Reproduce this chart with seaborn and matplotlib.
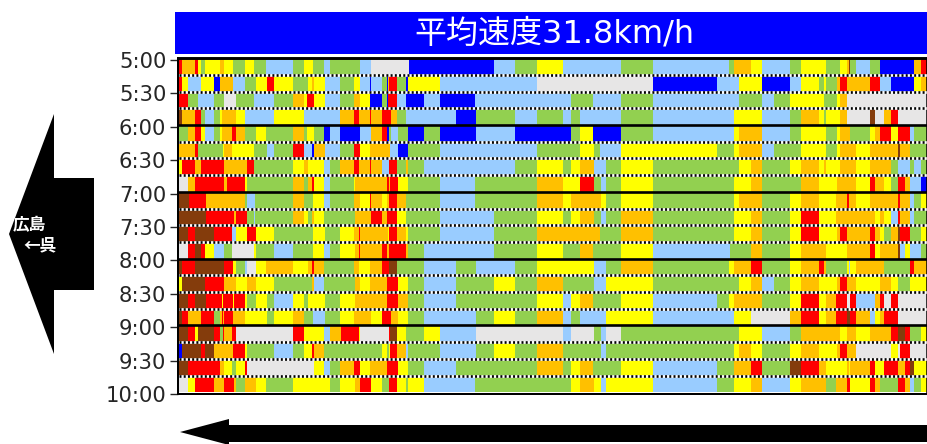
"""Commute-hour speed map along one road: time of day against road position."""

import numpy as np
import matplotlib
matplotlib.use("Agg")
import matplotlib.pyplot as plt
from matplotlib.colors import ListedColormap
from matplotlib.patches import Polygon, Rectangle
import seaborn as sns

TITLE = "平均速度31.8km/h"
TIME_LABELS = ["5:00", "5:30", "6:00", "6:30", "7:00", "7:30", "8:00", "8:30", "9:00", "9:30", "10:00"]

# speed classes, slowest to fastest, w = no data
CLASS_CODES = "mroyglbw"
CLASS_COLORS = ["#843C0C", "#FF0000", "#FFC000", "#FFFF00", "#92D050", "#99CCFF", "#0000FF", "#E7E6E6"]

# one string per 15 minutes: speed class + last road position of that run
ROW_0500 = "r3 o16 r19 y22 g26 y41 o45 y54 g66 y75 g87 l114 g125 y134 g145 l151 g181 l192 w230 b315 l336 g358 y384 l442 g474 l550 g555 o572 y583 l611 g622 y647 g661 y668 o670 m671 g677 l691 g701 b735 o742 r748"
ROW_0515 = "r3 y9 l22 y35 b41 o54 l66 g77 y88 r95 y114 g129 y133 o135 y146 l161 g175 y181 l191 b192 l203 g208 b209 o210 r218 g227 b229 y261 l358 w474 b538 l560 y583 b611 l622 y640 g645 y647 g658 o661 r668 o691 r701 l712 b735 y742 o748"
ROW_0530 = "r9 g19 l35 g45 w57 g75 l95 g114 o125 y128 r135 y146 l161 g175 o181 y191 b203 g208 b209 r218 l227 b245 l261 b296 l392 g414 l442 g474 l560 g583 l595 g611 y645 g658 y661 o668 w748"
ROW_0545 = "m3 o16 r22 g26 l35 g41 y43 o57 y66 l95 y125 l161 o175 r180 o191 r192 o203 r212 o218 g227 l277 b297 g336 l358 g384 l392 g401 l442 g474 l555 y583 l611 g622 o640 y645 g647 y661 o668 w691 m696 w705 o712 r719 w748"
ROW_0600 = "g9 o16 r22 y26 l35 g41 y43 o53 r57 o66 g77 y87 g114 o125 g128 y135 g145 b151 l161 b181 l192 o203 r208 b210 g212 l219 g229 b245 g261 b297 l336 b392 g401 y414 b442 g474 l555 y560 o583 l611 g622 y647 g658 y661 o671 g691 y696 o701 r712 y719 r731 l735 g748"
ROW_0615 = "o16 r19 g44 y45 o53 y75 g88 l95 g114 r125 l133 b135 o146 l161 g175 r181 y191 o211 l219 b229 g261 l358 g401 y415 g421 l442 y538 g555 y560 o583 l595 g622 y647 g658 y661 o677 y691 o719 m721 o731 g748"
ROW_0630 = "y3 r16 o22 r45 o68 r75 g114 y125 o129 y145 l151 g161 o175 r180 o191 r192 o203 l210 r218 g227 o229 g245 l336 g358 y384 g392 y401 o415 l427 g442 y474 g560 y572 o583 g611 y622 o640 y645 o647 y661 o677 y691 o712 g719 l731 g735 l742 g748"
ROW_0645 = "w9 o16 r45 o48 r66 y68 g114 o125 g129 o133 r135 y145 l151 g175 y176 o208 r210 o211 r219 y229 g261 l296 g358 o384 y401 r415 g422 l427 g442 y474 g555 y572 o583 g622 o640 y658 o677 y691 r696 o705 y712 g719 r726 o731 l742 b748"
ROW_0700 = "m10 r27 o66 g68 l76 g114 o125 g134 y145 l151 g175 o181 y191 r192 o203 y208 o210 r218 o227 g261 l296 g358 o384 y392 o422 y427 g442 y474 g555 y560 o583 g611 y622 o640 y657 o668 r670 o677 y691 o719 r721 o731 l735 g742 y748"
ROW_0715 = "m27 r55 o57 r68 g75 l76 g114 o125 y129 g133 o135 y145 g176 o192 r203 o208 r218 y227 g261 l315 g358 y384 g392 y401 o415 g422 l427 g442 o474 g555 y572 o583 g611 y622 r640 y657 o696 y701 o705 y712 l719 r721 o731 l735 g748"
ROW_0730 = "m9 r16 m35 r53 l57 y68 r77 y95 g134 y146 g161 y175 o180 r181 o209 y210 r218 o227 y229 g261 l315 g358 o421 g442 o474 g555 y572 o583 g611 y622 r640 y658 o661 r668 o691 r696 o701 y705 g712 o719 m721 r731 g742 y748"
ROW_0745 = "w9 r16 m22 r26 y35 l45 g53 w75 y77 g95 l114 g134 y145 l151 g161 y176 o180 r181 o203 r208 o210 r227 o229 g245 l315 g358 y384 g401 o414 g442 y474 l551 g572 o583 g611 y622 o647 y668 o691 r696 y701 o719 m721 l726 y731 l742 g748"
ROW_0800 = "m3 r16 m45 r54 y57 g66 l68 w77 y87 o114 y129 o133 r135 o145 g175 o180 y191 o203 r210 m218 g245 l277 g297 l336 g358 y415 l427 g442 o474 g550 y555 o572 r583 g611 y622 o640 r645 o647 g668 y670 l671 y677 o705 g731 r735 o748"
ROW_0815 = "y3 m26 r45 o57 y68 o77 y95 g133 o135 l145 g176 o181 y191 o208 r219 y229 g245 l277 g315 y336 g358 o384 g415 l427 y474 g560 y572 o583 l595 g611 y622 o640 y658 o661 r668 o677 y701 o712 y719 g731 y748"
ROW_0830 = "m9 r16 m27 r43 y44 r54 y55 r66 y68 g77 y88 g95 l114 y125 g129 y146 g161 y176 o208 r219 o229 g245 l277 g358 y384 l392 y401 o414 g442 y474 l538 g550 y555 o583 g611 y622 r640 y647 o657 r668 w671 r677 l696 o701 r705 w712 r719 w748"
ROW_0845 = "m3 r9 o22 r35 g41 o43 r44 o45 r54 o66 y88 g95 y114 o125 g134 l146 g161 y175 o192 y203 r212 o219 y229 g245 l297 g315 y336 g358 o384 l392 g401 l427 y474 l555 y572 w611 o622 r640 y647 o657 r668 m671 r677 o691 l696 y701 o705 r719 w748"
ROW_0900 = "m9 r16 y19 m35 r41 g44 r45 o53 r57 w114 r125 y145 l151 o162 r180 y181 w210 r211 m218 y227 g245 y261 l297 w384 l392 w415 g422 l427 w442 g560 y583 l611 g622 o661 y668 o677 y691 o712 r719 m726 r731 g742 y748"
ROW_0915 = "b3 m22 r26 m35 o54 r66 y68 g95 l114 g125 y133 r135 o145 g203 y208 g210 y211 r218 o227 l229 g261 l297 g315 y336 g358 o384 g422 l427 g555 y560 o572 y583 g611 y622 o640 y658 o661 r668 o677 w712 y719 w721 r731 w748"
ROW_0930 = "m9 r41 o45 y53 g57 y66 r68 w135 y145 l151 g161 o175 r181 y191 o208 r219 y229 g245 l277 g358 o384 g392 y401 o414 g442 y474 l538 g555 o572 r583 g611 m622 r640 o647 y668 o670 y671 o691 r696 y705 r719 o726 r731 m735 y748"
ROW_0945 = "w9 y16 r35 o45 r55 o57 g66 o77 y87 g114 y151 g161 y176 o181 r192 y203 g210 r218 y227 g229 y245 l296 g392 y401 o415 y422 l427 y474 l538 g555 y572 o583 l611 y622 o647 g657 o668 r671 y691 r696 o701 g719 r726 o731 l735 g742 y748"

ROWS = [ROW_0500, ROW_0515, ROW_0530, ROW_0545, ROW_0600, ROW_0615, ROW_0630, ROW_0645, ROW_0700, ROW_0715,
        ROW_0730, ROW_0745, ROW_0800, ROW_0815, ROW_0830, ROW_0845, ROW_0900, ROW_0915, ROW_0930, ROW_0945]

FIG_W, FIG_H = 928, 444


def expand_row(row):
    """Turn 'r3 o16 ...' into one class index per road position."""
    cells = np.zeros(748, dtype=int)
    start = 0
    for token in row.split():
        end = int(token[1:])
        cells[start:end] = CLASS_CODES.index(token[0])
        start = end
    return cells


speed_classes = np.array([expand_row(r) for r in ROWS])

plt.rcParams["font.family"] = ["DejaVu Sans", "Noto Sans CJK JP"]

fig = plt.figure(figsize=(FIG_W / 100, FIG_H / 100), dpi=100)
fig.patch.set_facecolor("white")

ax_top, ax_bottom = 58.3, 393.9
ax = fig.add_axes([179 / FIG_W, 1 - ax_bottom / FIG_H, 748 / FIG_W, (ax_bottom - ax_top) / FIG_H])
sns.heatmap(speed_classes, cmap=ListedColormap(CLASS_COLORS), vmin=-0.5, vmax=7.5, cbar=False, ax=ax,
            xticklabels=False, yticklabels=False)

# spines first: set_position resets the tick setup
for side in ["left", "top", "bottom", "right"]:
    ax.spines[side].set_visible(True)
    ax.spines[side].set_color("black")
ax.spines["left"].set_linewidth(1.44)
ax.spines["left"].set_position(("outward", 0.7))
ax.spines["top"].set_linewidth(2.1)
ax.spines["bottom"].set_linewidth(1.44)
ax.spines["right"].set_linewidth(1.1)

# the ticks sit just under the row boundaries
ax.set_yticks(np.arange(len(TIME_LABELS)) * 2 + 0.1)
ax.set_yticklabels(TIME_LABELS, rotation=0, fontsize=15.2, color="#262626")
ax.tick_params(axis="y", length=6, width=1, color="#262626", pad=2.4)
ax.set_xticks([])

# quarter-hour rows are split by dotted lines, hours by solid ones
for i in range(1, len(ROWS)):
    if i % 4 == 0:
        ax.axhline(i, color="black", lw=1.9, zorder=5)
    else:
        ax.axhline(i, color="white", lw=1.9, zorder=5)
        ax.axhline(i, color="black", lw=1.9, ls=(0, (0.75, 0.85)), dash_capstyle="butt", zorder=6)

# overlay in pixel coordinates for the banner and direction arrows
over = fig.add_axes([0, 0, 1, 1], zorder=10)
over.set_xlim(0, FIG_W)
over.set_ylim(FIG_H, 0)
over.axis("off")

over.add_patch(Rectangle((175, 12), 753, 42, facecolor="#0000FF", edgecolor="none"))
over.text(554, 34, TITLE, color="white", fontsize=23, ha="center", va="center")

over.add_patch(Polygon([(9, 234), (54, 114), (54, 178), (94, 178), (94, 290), (54, 290), (54, 354)],
                       closed=True, facecolor="black", edgecolor="none"))
label_font = ["Noto Sans CJK JP", "DejaVu Sans"]
over.text(29, 225, "広島", color="white", fontsize=12, fontweight="bold", ha="center", va="center", family=label_font)
over.text(40, 245, "←呉", color="white", fontsize=12, fontweight="bold", ha="center", va="center", family=label_font)

over.add_patch(Polygon([(180, 432), (229, 419), (229, 425), (928, 425), (928, 442), (229, 442), (229, 445)],
                       closed=True, facecolor="black", edgecolor="none"))

fig.savefig("out.png", dpi=100)
